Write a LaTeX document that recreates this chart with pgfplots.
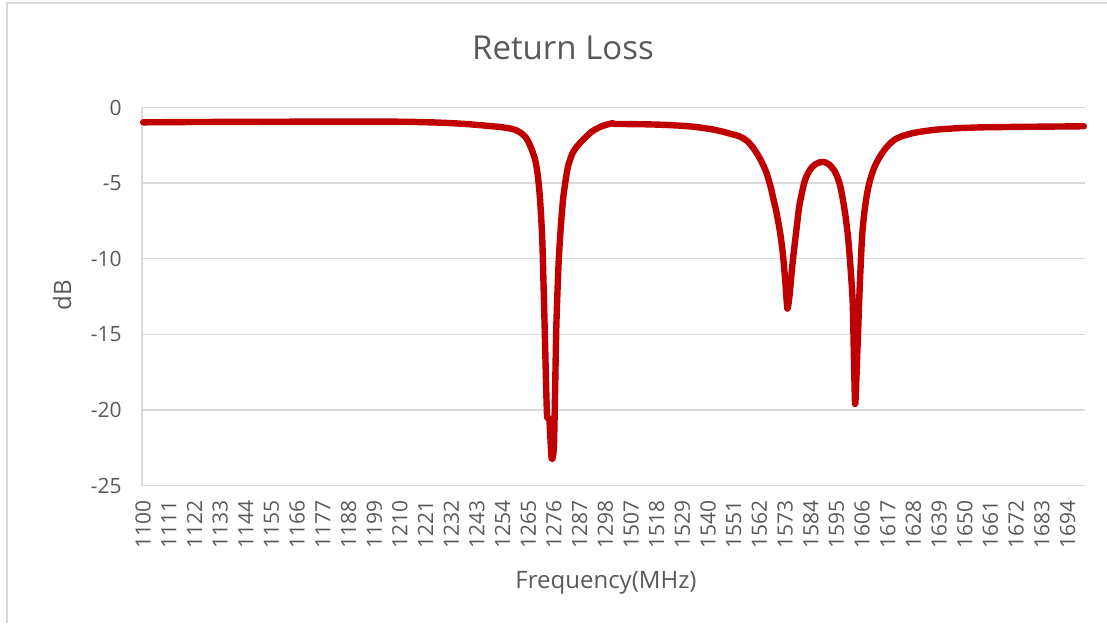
\documentclass[border=0pt]{standalone}
\usepackage{fontspec}
\setmainfont{Open Sans}
\usepackage{pgfplots}
\pgfplotsset{compat=1.18}
\definecolor{txt}{HTML}{595959}
\definecolor{grd}{HTML}{D9D9D9}
\definecolor{ln}{HTML}{C00000}
\begin{document}
\begin{tikzpicture}
\useasboundingbox (0,0) rectangle (553.5pt,311.5pt);
\draw[grd, line width=0.75pt] (3.5pt,0) -- (3.5pt,310pt) -- (553.5pt,310pt);
\node[txt, font=\fontsize{16.5}{20}\selectfont] at (281.5pt,287.5pt) {Return Loss};
\node[txt, font=\fontsize{12}{14}\selectfont] at (303pt,20pt) {Frequency(MHz)};
\node[txt, font=\fontsize{12}{14}\selectfont, rotate=90] at (31pt,164pt) {dB};
\begin{axis}[
  at={(71pt,68.7pt)}, anchor=south west, scale only axis,
  width=471.5pt, height=189.05pt,
  xmin=-0.5, xmax=403.5, ymin=-25, ymax=0,
  axis lines*=left,
  axis line style={grd, line width=0.75pt},
  ytick={-25,-20,-15,-10,-5,0},
  yticklabels={-25,-20,-15,-10,-5,0},
  xtick={0,11,22,33,44,55,66,77,88,99,110,121,132,143,154,165,176,187,198,209,220,231,242,253,264,275,286,297,308,319,330,341,352,363,374,385,396},
  xticklabels={1100,1111,1122,1133,1144,1155,1166,1177,1188,1199,1210,1221,1232,1243,1254,1265,1276,1287,1298,1507,1518,1529,1540,1551,1562,1573,1584,1595,1606,1617,1628,1639,1650,1661,1672,1683,1694},
  major tick length=0pt,
  ymajorgrids, grid style={grd, line width=0.75pt},
  tick label style={txt, font=\fontsize{10.5}{12}\selectfont},
  xticklabel style={rotate=90, anchor=east, inner sep=0pt, xshift=-7pt},
  yticklabel style={anchor=east, inner sep=0pt, xshift=-10pt},
  clip=false,
]
\addplot[ln, line width=3.2pt, line join=round, line cap=round, smooth, tension=0.35] coordinates {
(0,-0.98) (10,-0.97) (20,-0.96) (30,-0.955) (40,-0.95) (50,-0.945) (60,-0.94) (70,-0.935) (80,-0.93) (90,-0.93) (100,-0.93)
(110,-0.94) (115,-0.95) (120,-0.97) (125,-0.99) (130,-1.02) (134,-1.05) (137,-1.08) (140,-1.11) (143,-1.15) (146,-1.19)
(148,-1.22) (151,-1.26) (153,-1.29) (155,-1.33) (157,-1.38) (158,-1.42) (159,-1.46) (160,-1.52) (161,-1.6) (162,-1.7)
(163,-1.83) (164,-2.0) (165,-2.25) (166,-2.6) (167,-3.0) (168,-3.5) (169,-4.4) (170,-6.0) (171,-8.8) (172,-14.5)
(173,-20.3) (174,-20.6) (175,-23.2) (176,-22.3) (177,-14.5) (178,-10.2) (179,-7.7) (180,-5.9) (181,-4.8) (182,-3.9)
(183,-3.4) (184,-3.0) (185,-2.75) (186,-2.55) (187,-2.37) (188,-2.2) (190,-1.9) (192,-1.62) (194,-1.42) (196,-1.27)
(198,-1.16) (200,-1.08) (201,-1.04) (202,-1.09) (205,-1.09) (210,-1.10) (215,-1.11) (220,-1.13) (225,-1.16) (230,-1.20)
(235,-1.26) (238,-1.31) (241,-1.38) (244,-1.45) (247,-1.55) (250,-1.67) (252,-1.75) (255,-1.88) (257,-2.03) (259,-2.25)
(261,-2.6) (263,-3.05) (265,-3.6) (267,-4.3) (268,-4.8) (269,-5.35) (270,-6.05) (271,-6.7) (272,-7.5) (273,-8.4)
(274,-9.6) (275,-11.3) (276,-13.3) (277,-12.3) (278,-10.6) (279,-9.2) (280,-7.9) (281,-6.6) (282,-5.8) (283,-5.1)
(284,-4.6) (285,-4.3) (286,-4.05) (288,-3.75) (290,-3.62) (291,-3.6) (292,-3.62) (294,-3.78) (296,-4.15) (297,-4.45)
(298,-4.85) (299,-5.45) (300,-6.3) (301,-7.3) (302,-8.6) (303,-10.5) (304,-13.0) (305,-19.6) (306,-16.0) (307,-11.8)
(308,-8.5) (309,-6.9) (310,-5.8) (311,-5.05) (312,-4.5) (313,-4.05) (314,-3.7) (316,-3.15) (318,-2.72) (320,-2.38)
(322,-2.12) (325,-1.9) (329,-1.72) (333,-1.6) (340,-1.46) (350,-1.36) (360,-1.31) (375,-1.28) (390,-1.26) (403,-1.24)
};
\end{axis}
\end{tikzpicture}
\end{document}
